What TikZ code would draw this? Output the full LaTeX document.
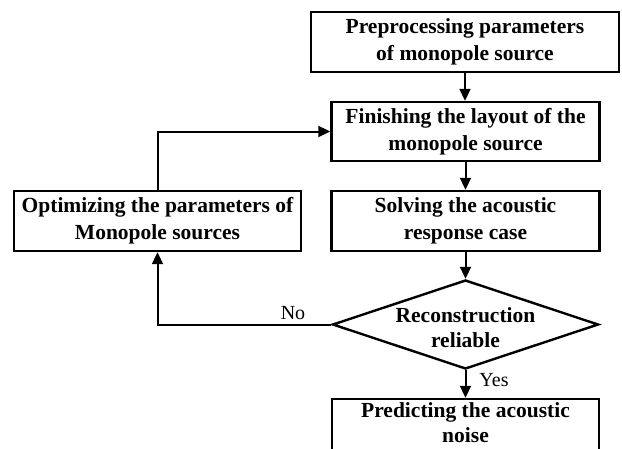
\documentclass[tikz,border=0pt]{standalone}
\usepackage{fontspec}
\setmainfont{Liberation Serif}
\usetikzlibrary{arrows.meta,shapes.geometric}
\begin{document}
\begin{tikzpicture}[x=1pt,y=-1pt,
  box/.style={draw, line width=2.4pt, inner sep=0pt, align=center,
    minimum height=60pt, font=\fontsize{21.5}{27}\selectfont\bfseries},
  btxt/.style={align=center, inner sep=0pt, font=\fontsize{21.5}{25}\selectfont\bfseries},
  lbl/.style={font=\fontsize{20}{24}\selectfont, inner sep=0pt},
  arr/.style={line width=2pt, -{Triangle[length=12pt,width=11pt]}}]
\useasboundingbox (0,0) rectangle (622,448);
\node[box, minimum width=308pt] (b1) at (465,42) {Preprocessing parameters\\of monopole source};
\node[box, minimum width=268pt, minimum height=59pt] (b2) at (465.5,131.5) {Finishing the layout of the\\monopole source};
\node[box, minimum width=268pt] (b3) at (465.5,221) {Solving the acoustic\\response case};
\node[box, minimum width=287pt] (opt) at (157.5,221) {Optimizing the parameters of\\Monopole sources};
\node[draw, diamond, line width=2.4pt, minimum width=266pt, minimum height=89pt, inner sep=0pt] (d) at (465.5,324.5) {};
\node[btxt] (dt) at (465.5,328) {Reconstruction\\reliable};
\node[draw, line width=2.4pt, minimum width=267pt, minimum height=60pt, inner sep=0pt] (b5) at (465.5,429) {};
\node[btxt] (b5t) at (465.5,422.5) {Predicting the acoustic\\noise};
\draw[arr] (b1.south) -- (b1.south |- b2.north);
\draw[arr] (b2) -- (b3);
\draw[arr] (b3) -- (d);
\draw[arr] (d.west) -| (opt.south);
\draw[arr] (opt.north) |- (b2.west);
\draw[arr] (d.south) -- (b5.north);
\node[lbl] (no) at (293,313) {No};
\node[lbl] (yes) at (494,380) {Yes};
\end{tikzpicture}
\end{document}
